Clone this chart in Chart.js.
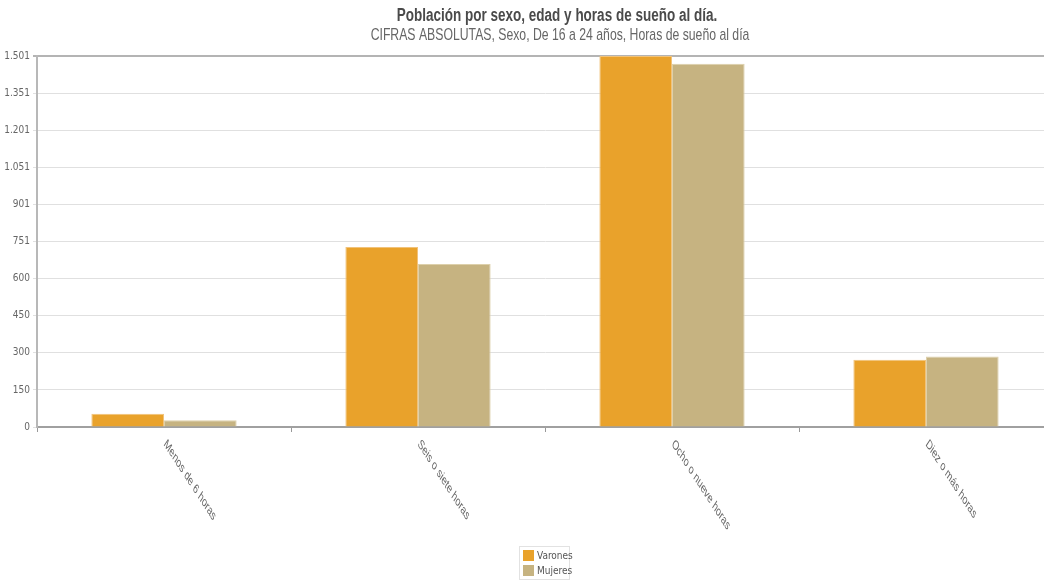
<!DOCTYPE html>
<html>
<head>
<meta charset="utf-8">
<script src="https://cdn.jsdelivr.net/npm/chart.js@4.4.1/dist/chart.umd.min.js"></script>
<style>
  html, body { margin: 0; padding: 0; background: #fff; overflow: hidden; }
  #wrap { width: 1114px; height: 583px; }
</style>
</head>
<body>
<div id="wrap"><canvas id="chart" width="1114" height="583"></canvas></div>
<script>
// datos
const categorias = ["Menos de 6 horas", "Seis o siete horas", "Ocho o nueve horas", "Diez o más horas"];
const varones = [54, 728, 1501, 272];
const mujeres = [27, 659, 1470, 285];
const yTicks = [0, 150, 300, 450, 600, 751, 901, 1051, 1201, 1351, 1501];

const titulo = 'Población por sexo, edad y horas de sueño al día.';
const subtitulo = 'CIFRAS ABSOLUTAS, Sexo, De 16 a 24 años, Horas de sueño al día';

const narrow = '"Liberation Sans Narrow", "Arial Narrow", "DejaVu Sans Condensed", sans-serif';

function fmt(v) {
  return String(Math.round(v)).replace(/\B(?=(\d{3})+(?!\d))/g, '.');
}

function squeezedText(ctx, txt, x, y, font, color, sq) {
  ctx.save();
  ctx.font = font;
  ctx.fillStyle = color;
  ctx.textAlign = 'center';
  ctx.textBaseline = 'middle';
  ctx.translate(x, y);
  ctx.scale(sq, 1);
  ctx.fillText(txt, 0, 0);
  ctx.restore();
}

// titulos, etiquetas inclinadas del eje x y leyenda vertical
const extras = {
  id: 'extras',
  afterDraw(chart) {
    const ctx = chart.ctx;
    const xs = chart.scales.x;
    const area = chart.chartArea;
    const mid = chart.width / 2;

    squeezedText(ctx, titulo, mid, 16, 'bold 18px "Liberation Sans", Arial, sans-serif', '#4a4a4a', 0.75);
    squeezedText(ctx, subtitulo, mid + 3, 35, '17px "Liberation Sans", Arial, sans-serif', '#666', 0.72);

    ctx.save();
    ctx.fillStyle = '#666';
    ctx.font = '13.5px "Liberation Sans", sans-serif';
    ctx.textAlign = 'left';
    ctx.textBaseline = 'middle';
    chart.data.labels.forEach(function(lab, i) {
      ctx.save();
      ctx.translate(xs.getPixelForValue(i) + 1, xs.top + 15);
      ctx.scale(0.65, 1);
      ctx.rotate(Math.PI / 4);
      ctx.fillText(lab, 0, 0);
      ctx.restore();
    });

    const cx = (area.left + area.right) / 2;
    const bx = cx - 26, by = 546, bw = 50, bh = 33;
    ctx.strokeStyle = '#e2e2e2';
    ctx.lineWidth = 1;
    ctx.strokeRect(bx + 0.5, by + 0.5, bw, bh);
    ctx.font = '10px ' + narrow;
    chart.data.datasets.forEach(function(ds, i) {
      const y = by + 4 + i * 15;
      ctx.fillStyle = ds.backgroundColor;
      ctx.fillRect(bx + 4, y, 11, 11);
      ctx.fillStyle = '#555';
      ctx.fillText(ds.label, bx + 18, y + 6);
    });
    ctx.restore();
  }
};

new Chart(document.getElementById('chart'), {
  type: 'bar',
  data: {
    labels: categorias,
    datasets: [{
      label: 'Varones',
      data: varones,
      backgroundColor: '#e9a22b',
      borderColor: '#f1c27a',
      borderWidth: 1,
      categoryPercentage: 0.572,
      barPercentage: 1.0
    }, {
      label: 'Mujeres',
      data: mujeres,
      backgroundColor: '#c6b381',
      borderColor: '#ddd0ab',
      borderWidth: 1,
      categoryPercentage: 0.572,
      barPercentage: 1.0
    }]
  },
  options: {
    responsive: false,
    animation: false,
    layout: { padding: { top: 56, right: 61, bottom: 151, left: 0 } },
    plugins: {
      legend: { display: false },
      tooltip: { enabled: false },
      title: { display: false },
      subtitle: { display: false }
    },
    scales: {
      x: {
        ticks: { display: false },
        grid: { drawOnChartArea: false, drawTicks: true, tickLength: 5, color: '#999' },
        border: { color: '#a0a0a0', width: 2 }
      },
      y: {
        min: 0,
        max: 1501,
        afterBuildTicks: function(scale) {
          scale.ticks = yTicks.map(function(v) { return { value: v }; });
        },
        afterFit: function(scale) { scale.width = 37; },
        ticks: {
          color: '#666',
          padding: 3,
          font: { family: narrow, size: 10 },
          callback: function(v) { return fmt(v); }
        },
        grid: {
          tickLength: 4,
          color: function(c) { return c.tick && c.tick.value === 1501 ? '#b4b4b4' : '#e0e0e0'; },
          lineWidth: function(c) { return c.tick && c.tick.value === 1501 ? 2 : 1; }
        },
        border: { color: '#b8b8b8', width: 2 }
      }
    }
  },
  plugins: [extras]
});
</script>
</body>
</html>
